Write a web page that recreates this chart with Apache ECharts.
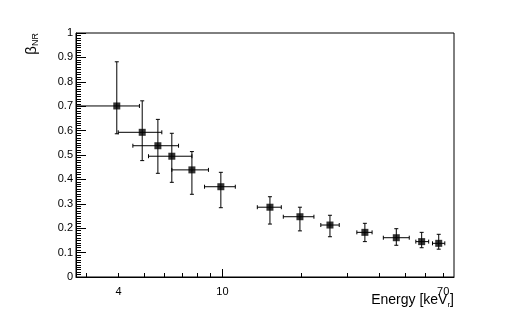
<!DOCTYPE html>
<html>
<head>
<meta charset="utf-8">
<script src="https://cdn.jsdelivr.net/npm/echarts@6/dist/echarts.min.js"></script>
<style>
  html, body { margin: 0; padding: 0; background: #fff; }
  #chart { width: 505px; height: 327px; }
</style>
</head>
<body>
<div id="chart"></div>
<script>
// 数据 (keVr, beta_NR)
const energy = [3.94, 4.93, 5.66, 6.40, 7.64, 9.86, 15.2, 19.8, 25.8, 35.1, 46.3, 57.9, 67.3]
const energyLow = [2.5, 3.99, 4.54, 5.21, 6.40, 8.54, 13.6, 17.1, 23.8, 32.7, 41.3, 55.0, 63.7]
const energyHigh = [4.81, 5.86, 6.79, 7.64, 8.84, 11.2, 16.8, 22.4, 28.0, 37.4, 51.9, 61.6, 71.0]
const beta = [0.701, 0.593, 0.538, 0.495, 0.439, 0.370, 0.286, 0.247, 0.213, 0.183, 0.161, 0.145, 0.138]
const betaLow = [0.587, 0.477, 0.425, 0.388, 0.339, 0.284, 0.217, 0.189, 0.165, 0.145, 0.130, 0.120, 0.114]
const betaHigh = [0.882, 0.722, 0.646, 0.589, 0.514, 0.429, 0.329, 0.286, 0.253, 0.220, 0.198, 0.183, 0.175]

// 坐标轴刻度
const xMinorTicks = [3, 4, 5, 6, 7, 8, 9, 10, 20, 30, 40, 50, 60, 70]
const xMajorTicks = [10]
const xTickLabels = [4, 10, 70]

const font = 'Liberation Sans'

const points = energy.map((e, i) => [e, beta[i], energyLow[i], energyHigh[i], betaLow[i], betaHigh[i]])

const chart = echarts.init(document.getElementById('chart'))

const renderErrorBar = (params, api) => {
  const x = api.value(0)
  const y = api.value(1)
  const c = api.coord([x, y])
  const l = api.coord([api.value(2), y])
  const r = api.coord([api.value(3), y])
  const b = api.coord([x, api.value(4)])
  const t = api.coord([x, api.value(5)])
  const cap = 2
  const style = { stroke: '#000', lineWidth: 1 }
  const line = (x1, y1, x2, y2) => ({ type: 'line', shape: { x1, y1, x2, y2 }, style })
  return {
    type: 'group',
    children: [
      line(l[0], c[1], r[0], c[1]),
      line(c[0], b[1], c[0], t[1]),
      line(l[0], c[1] - cap, l[0], c[1] + cap),
      line(r[0], c[1] - cap, r[0], c[1] + cap),
      line(c[0] - cap, b[1], c[0] + cap, b[1]),
      line(c[0] - cap, t[1], c[0] + cap, t[1]),
    ],
  }
}

const option = {
  animation: false,
  grid: {
    left: 76,
    right: 51,
    top: 33,
    bottom: 50,
    show: true,
    borderColor: '#000',
    borderWidth: 1,
    backgroundColor: 'transparent',
  },
  xAxis: [
    {
      type: 'log',
      logBase: 10,
      min: 2.75,
      max: 77,
      position: 'bottom',
      axisLine: { lineStyle: { color: '#000', width: 1 } },
      axisTick: { inside: true, length: 4, customValues: xMinorTicks, lineStyle: { color: '#000' } },
      minorTick: { show: false },
      splitLine: { show: false },
      axisLabel: {
        customValues: xTickLabels,
        formatter: (v) => String(Math.round(v)),
        color: '#000',
        fontFamily: font,
        fontSize: 11,
        margin: 9,
      },
    },
    {
      type: 'log',
      logBase: 10,
      min: 2.75,
      max: 77,
      position: 'bottom',
      axisLine: { show: false },
      axisTick: { inside: true, length: 8, customValues: xMajorTicks, lineStyle: { color: '#000' } },
      splitLine: { show: false },
      axisLabel: { show: false },
    },
  ],
  yAxis: {
    type: 'value',
    min: 0,
    max: 1,
    interval: 0.1,
    axisLine: { show: true, lineStyle: { color: '#000', width: 1 } },
    axisTick: { inside: true, length: 10, lineStyle: { color: '#000' } },
    minorTick: { show: true, splitNumber: 10, length: 5, lineStyle: { color: '#000' } },
    splitLine: { show: false },
    axisLabel: { color: '#000', fontFamily: font, fontSize: 11, margin: 3 },
  },
  graphic: [
    {
      type: 'text',
      x: 32,
      y: 33,
      rotation: Math.PI / 2,
      style: {
        text: 'β{sub|NR}',
        font: '15px "Liberation Sans"',
        fill: '#000',
        textAlign: 'right',
        textVerticalAlign: 'middle',
        rich: {
          sub: { fontSize: 9, fontFamily: font, padding: [8, 0, 0, 0] },
        },
      },
    },
    {
      type: 'text',
      x: 454,
      y: 300,
      style: {
        text: 'Energy [keV{sub|r}]',
        font: '14px "Liberation Sans"',
        fill: '#000',
        textAlign: 'right',
        textVerticalAlign: 'middle',
        rich: {
          sub: { fontSize: 8, fontFamily: font, padding: [9, 0, 0, 0] },
        },
      },
    },
  ],
  series: [
    {
      type: 'custom',
      xAxisIndex: 0,
      clip: true,
      renderItem: renderErrorBar,
      data: points,
      z: 2,
    },
    {
      type: 'scatter',
      xAxisIndex: 0,
      symbol: 'rect',
      symbolSize: 7,
      itemStyle: { color: '#000' },
      data: points.map((p) => [p[0], p[1]]),
      z: 3,
    },
  ],
}

chart.setOption(option)
</script>
</body>
</html>
